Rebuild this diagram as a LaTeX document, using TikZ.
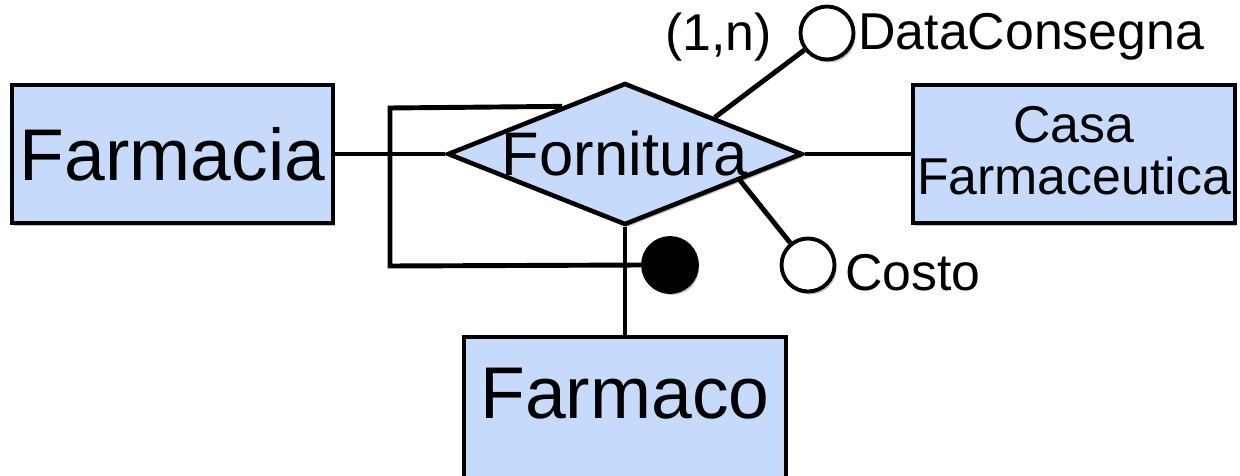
\documentclass[tikz,border=0pt]{standalone}
\usepackage{fontspec}
\setmainfont{Liberation Sans}
\usetikzlibrary{shapes.geometric,shadows,calc}

\definecolor{erblue}{RGB}{198,218,251}

\tikzset{
  softshadow/.style={drop shadow={shadow xshift=0.04cm,shadow yshift=-0.06cm,opacity=0.25,fill=black}},
  entity/.style={draw=black,line width=2.3pt,fill=erblue,rectangle,inner sep=0pt,
    minimum width=6.44cm,minimum height=2.76cm,softshadow},
  relation/.style={draw=black,line width=2.6pt,fill=erblue,diamond,inner sep=0pt,
    minimum width=7.1cm,minimum height=2.84cm,softshadow},
  attr/.style={draw=black,line width=2.2pt,fill=white,circle,inner sep=0pt,
    minimum size=1.06cm,softshadow},
  keyattr/.style={draw=black,line width=2.2pt,fill=black,circle,inner sep=0pt,
    minimum size=1.08cm,softshadow},
  link/.style={draw=black,line width=2.8pt},
  bigtext/.style={font=\fontsize{41.7pt}{50pt}\selectfont},
  midtext/.style={font=\fontsize{35pt}{42pt}\selectfont},
  smalltext/.style={font=\fontsize{29.5pt}{29.5pt}\selectfont},
}

\begin{document}
\begin{tikzpicture}[x=0.02cm,y=-0.02cm]
  \useasboundingbox (0,0) rectangle (1240,476);
  \clip (0,0) rectangle (1240,476);

  % entities and relationship
  \node[entity,bigtext,minimum width=6.42cm] (farmacia) at (172.5,154) {Farmacia};
  \node[entity,smalltext,align=center,text depth=0.16cm] (casa) at (1074,154) {Casa\\Farmaceutica};
  \node[entity,bigtext,minimum height=2.9cm,text height=1.06cm,text depth=0.72cm] (farmaco) at (625,409.5) {Farmaco};
  \node[relation] (fornitura) at (625,154) {};
  \node[midtext] (fornituraT) at (fornitura.center) {Fornitura};

  % attributes
  \node[attr] (dc) at (827,33) {};
  \node[attr] (costo) at (808,265) {};
  \node[keyattr] (key) at (670,265) {};

  \node[smalltext,anchor=base west,inner sep=0pt] (dcT) at (858,50) {DataConsegna};
  \node[smalltext,anchor=base west,inner sep=0pt] (costoT) at (845,290) {Costo};
  \node[smalltext,anchor=base west,inner sep=0pt] (card) at (665,51) {(1,n)};

  % points on the diamond border
  \coordinate (dcFoot) at ($(fornitura.north)!0.5!(fornitura.east)$);
  \coordinate (costoFoot) at ($(fornitura.east)!0.36!(fornitura.south)$);
  \coordinate (idFoot) at ($(fornitura.west)!0.65!(fornitura.north)$);
  \coordinate (idTL) at (390,108);
  \coordinate (idBL) at (390,266);

  % connectors
  \draw[link] (farmacia.east) -- (fornitura.west);
  \draw[link] (fornitura.east) -- (casa.west);
  \draw[link] (fornitura.south) -- (farmaco.north);
  \draw[link] (dcFoot) -- (dc);
  \draw[link] (costoFoot) -- (costo);
  \draw[link,line join=miter] (idFoot) -- (idTL) -- (idBL) -- (key.west);
\end{tikzpicture}
\end{document}
